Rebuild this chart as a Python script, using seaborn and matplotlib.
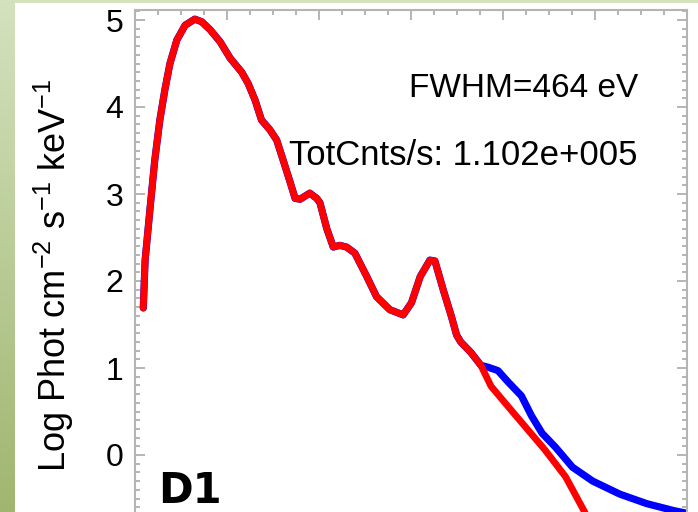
import numpy as np
import pandas as pd
import matplotlib
matplotlib.use("Agg")
import matplotlib.pyplot as plt
from matplotlib.patches import Rectangle
from matplotlib.ticker import MultipleLocator
import seaborn as sns

# Spectrum common to both models (keV, log10 photons cm^-2 s^-1 keV^-1)
shared_kev = [0.18, 0.22, 0.33, 0.43, 0.54, 0.65, 0.76, 0.91, 1.09, 1.30,
              1.45, 1.63, 1.85, 2.07, 2.32, 2.46, 2.61, 2.75, 2.93, 3.08,
              3.22, 3.37, 3.48, 3.59, 3.80, 3.95, 4.02, 4.17, 4.31, 4.45,
              4.60, 4.78, 5.04, 5.25, 5.54, 5.83, 6.01, 6.20, 6.41, 6.52,
              6.70, 6.88, 6.99, 7.08, 7.30, 7.52]
shared_log = [1.69, 2.24, 2.85, 3.39, 3.85, 4.20, 4.50, 4.77, 4.94, 5.01,
              4.98, 4.89, 4.75, 4.56, 4.40, 4.27, 4.08, 3.85, 3.74, 3.62,
              3.39, 3.14, 2.95, 2.94, 3.01, 2.95, 2.90, 2.60, 2.39, 2.41,
              2.39, 2.32, 2.05, 1.82, 1.67, 1.61, 1.75, 2.05, 2.24, 2.23,
              1.90, 1.59, 1.38, 1.30, 1.18, 1.03]

# High-energy tails where the two models separate
red_tail_kev = [7.74, 8.17, 8.54, 8.91, 9.36, 9.76, 9.90]
red_tail_log = [0.79, 0.52, 0.29, 0.06, -0.25, -0.64, -0.78]
blue_tail_kev = [7.67, 7.89, 8.11, 8.40, 8.62, 8.85, 9.14, 9.51, 9.95,
                 10.54, 11.13, 11.72, 12.0]
blue_tail_log = [1.01, 0.97, 0.84, 0.68, 0.45, 0.25, 0.09, -0.14, -0.30,
                 -0.45, -0.56, -0.64, -0.67]

y_ticks = [0, 1, 2, 3, 4, 5]
y_label = "Log Phot cm$^{-2}$ s$^{-1}$ keV$^{-1}$"
fwhm_text = "FWHM=464 eV"
counts_text = "TotCnts/s: 1.102e+005"
panel_text = "D1"

red = pd.DataFrame({"energy": shared_kev + red_tail_kev,
                    "logflux": shared_log + red_tail_log})
blue = pd.DataFrame({"energy": shared_kev + blue_tail_kev,
                     "logflux": shared_log + blue_tail_log})

sns.set_style("ticks")
plt.rcParams["font.family"] = ["Liberation Sans", "DejaVu Sans"]
plt.rcParams["mathtext.default"] = "regular"
plt.rcParams["text.color"] = "black"
plt.rcParams["axes.labelcolor"] = "black"
plt.rcParams["ytick.labelcolor"] = "black"

W, H = 698, 512
fig = plt.figure(figsize=(W / 100, H / 100), dpi=100)
fig.patch.set_facecolor("white")

# green slide border
bg = fig.add_axes([0, 0, 1, 1], zorder=-5)
bg.set_axis_off()
t = np.linspace(0, 1, 256)[:, None]
top_c = np.array([212, 226, 190]) / 255
bot_c = np.array([160, 182, 112]) / 255
grad = (top_c[None, None, :] * (1 - t[..., None]) + bot_c[None, None, :] * t[..., None])
grad = np.repeat(grad, 4, axis=1)
bg.imshow(grad, aspect="auto", extent=[0, 1, 0, 1], origin="upper")
bg.add_patch(Rectangle((15 / W, 0), 1, 1 - 3 / H, transform=fig.transFigure,
                       facecolor="white", edgecolor="none"))
bg.set_xlim(0, 1)
bg.set_ylim(0, 1)

ax = fig.add_axes([135 / W, 0, 552 / W, (H - 10) / H])
ax.set_facecolor("white")

line_kw = dict(sort=False, ax=ax, solid_joinstyle="round", solid_capstyle="round")
sns.lineplot(data=blue, x="energy", y="logflux", color="#0000ff", lw=5.2, **line_kw)
sns.lineplot(data=red, x="energy", y="logflux", color="#ff0000", lw=4.9, **line_kw)

ax.set_xlim(0, 12)
ax.set_ylim((455 - 512) / 87, (455 - 10) / 87)
ax.set_yticks(y_ticks)
ax.yaxis.set_minor_locator(MultipleLocator(0.1))
ax.xaxis.set_major_locator(MultipleLocator(2))
ax.xaxis.set_minor_locator(MultipleLocator(0.5))
ax.tick_params(which="both", direction="in", top=True, right=True,
               bottom=False, labelbottom=False, left=True, labelleft=True,
               color="#a8a8a8", width=1.2)
ax.tick_params(which="major", length=7, labelsize=23, pad=8.5, labelcolor="black")
ax.tick_params(which="minor", length=3.5)
for side in ("left", "right", "top"):
    ax.spines[side].set_color("#b4b4b4")
    ax.spines[side].set_linewidth(1.5)
ax.spines["bottom"].set_visible(False)
ax.set_xlabel("")
ax.set_ylabel(y_label, fontsize=26, va="center", ha="center", color="black")
ax.yaxis.set_label_coords(-0.147, 0.472)

ax.text(10.93, 4.115, fwhm_text, ha="right", va="baseline", fontsize=24)
ax.text(10.93, 3.33, counts_text, ha="right", va="baseline", fontsize=25)
ax.text(0.50, -0.55, panel_text, ha="left", va="baseline", fontsize=30,
        fontweight="bold", family=["DejaVu Sans"])

fig.savefig("out.png", dpi=100)
